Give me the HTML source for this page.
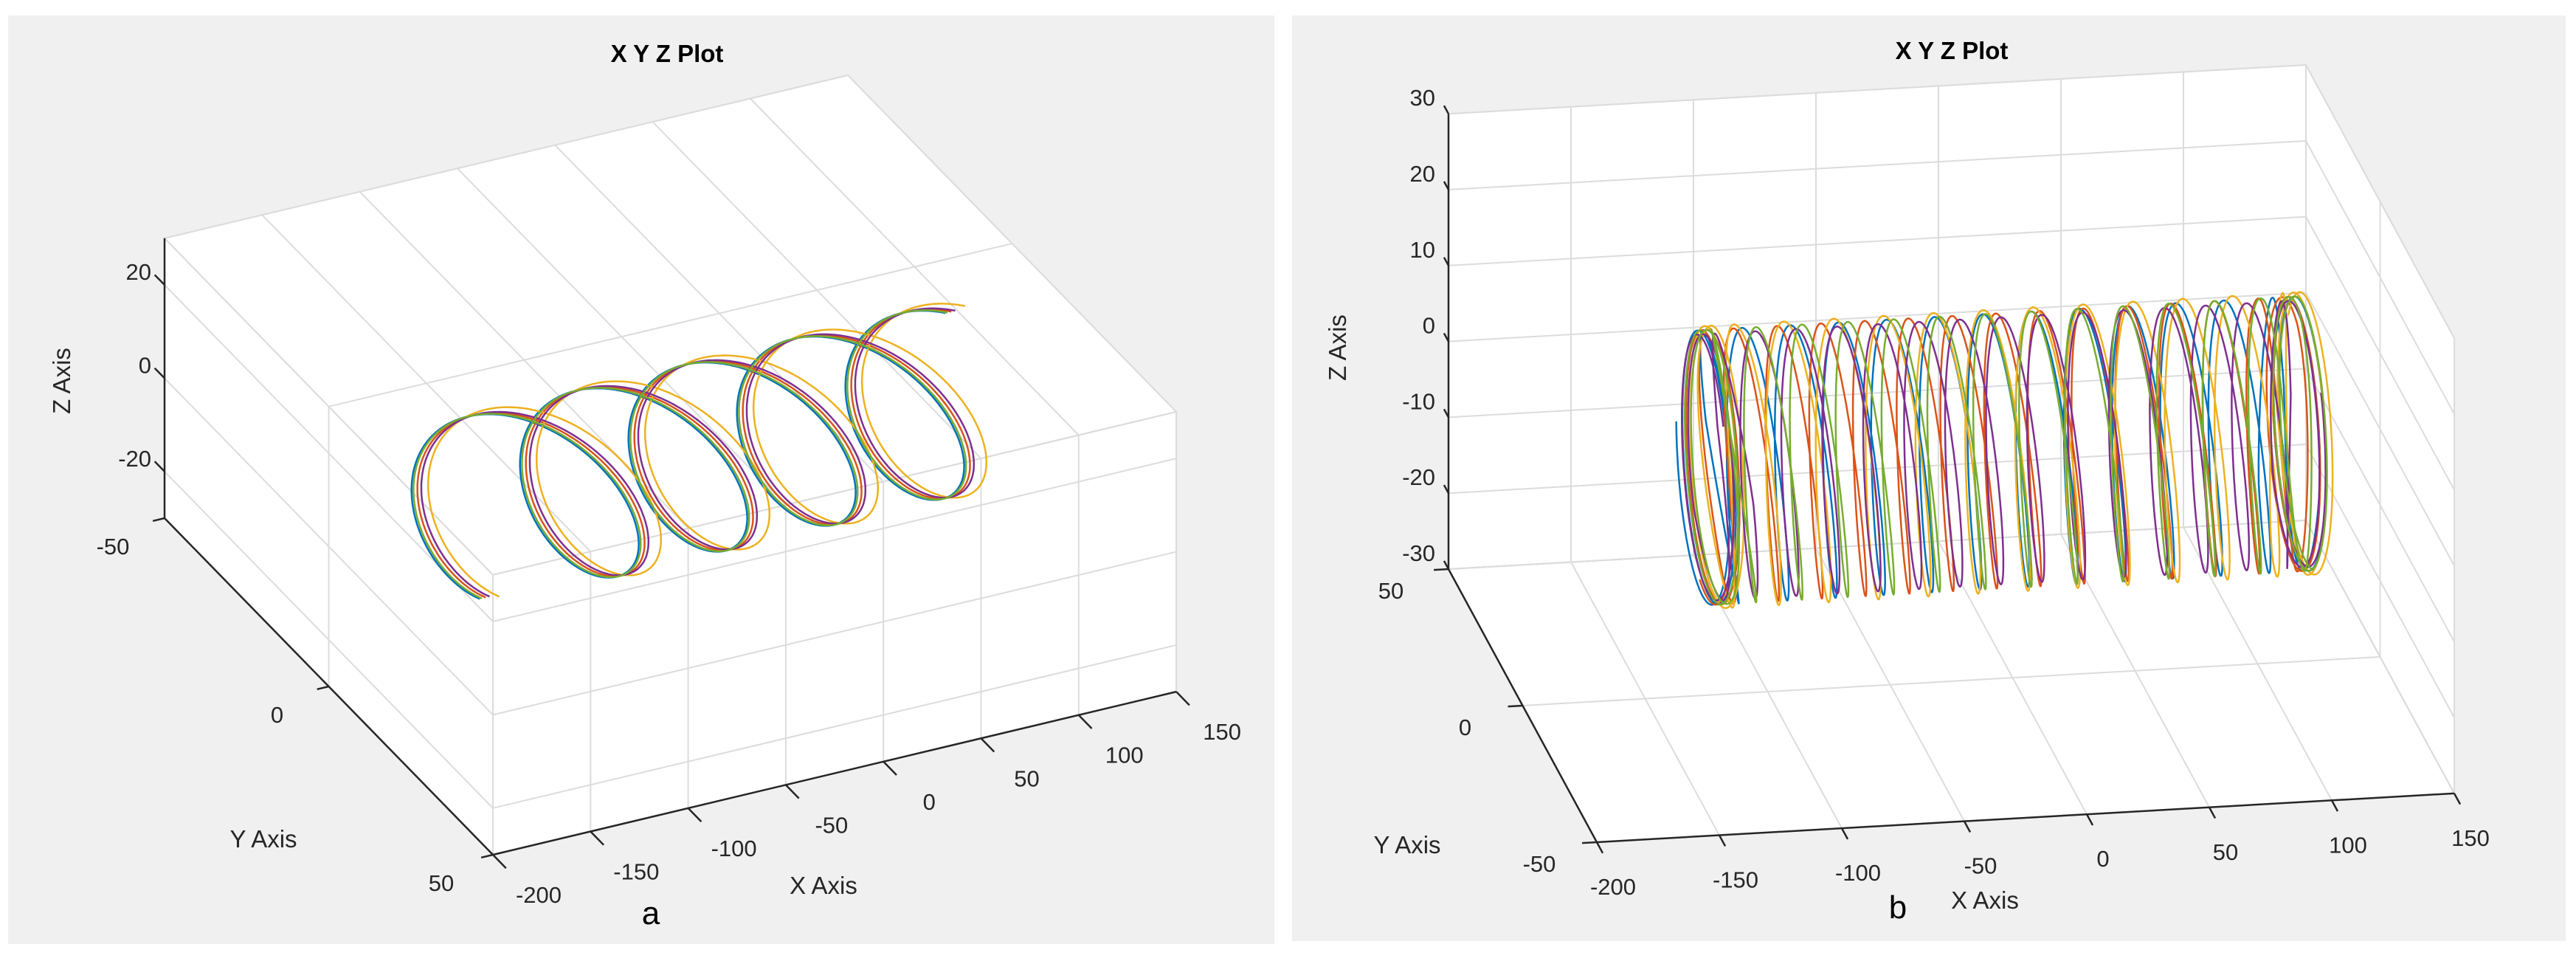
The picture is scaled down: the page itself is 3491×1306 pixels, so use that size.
<!DOCTYPE html>
<html><head><meta charset="utf-8"><style>
html,body{margin:0;padding:0;background:#fff;}
svg{display:block;}
text{font-family:"Liberation Sans",Arial,sans-serif;}
</style></head><body>
<svg id="fig" width="3491" height="1306" viewBox="0 0 3491 1306" xmlns="http://www.w3.org/2000/svg">
<rect x="11" y="21" width="1716" height="1258" fill="#f0f0f0"/>
<rect x="1751" y="21" width="1726" height="1254" fill="#f0f0f0"/>
<g id="pa"></g>
<g id="pb"></g>
<text x="904" y="84" font-size="33" font-weight="bold" text-anchor="middle" fill="#000">X Y Z Plot</text>
<text x="2645" y="80" font-size="33" font-weight="bold" text-anchor="middle" fill="#000">X Y Z Plot</text>
<text transform="translate(95,516) rotate(-90)" font-size="33" text-anchor="middle" fill="#262626">Z Axis</text>
<text x="357" y="1148" font-size="33" text-anchor="middle" fill="#262626">Y Axis</text>
<text x="1116" y="1211" font-size="33" text-anchor="middle" fill="#262626">X Axis</text>
<text x="882" y="1252" font-size="44" text-anchor="middle" fill="#000">a</text>
<text transform="translate(1824,471) rotate(-90)" font-size="33" text-anchor="middle" fill="#262626">Z Axis</text>
<text x="1907" y="1156" font-size="33" text-anchor="middle" fill="#262626">Y Axis</text>
<text x="2690" y="1231" font-size="33" text-anchor="middle" fill="#262626">X Axis</text>
<text x="2572" y="1244" font-size="44" text-anchor="middle" fill="#000">b</text>
</svg>
<script>
// ---- shared data ----
const xTicks = [-200,-150,-100,-50,0,50,100,150];
const yTicks = [-50,0,50];
const zTicksA = [-20,0,20];
const zTicksB = [-30,-20,-10,0,10,20,30];
const seriesColors = ['#0072BD','#D95319','#EDB120','#7E2F8E','#77AC30'];
// chart a helix data
const aXStart = [-125,-122,-115,-120,-124];
const aXEnd = [125,128,135,130,126];
const aYCenter = [-2,-2,-2,-2,-2];
const aZCenter = [-2,-2,-2,-2,-2];
const aRadiusY = [10,10,10.3,10,10];
const aTiltX = [26,26,27,26,26];
const aLean = [7,7,7,7,7];
const aRadiusZ = [19,19,19.5,19,19];
const aTurns = [4.5,4.5,4.5,4.5,4.5];
const aPhase = [1.6,1.6,1.6,1.6,1.6];
// chart b helix data
const bXStart = [-122,-120,-118,-121,-119];
const bXEnd = [114,112,116,113,115];
const bRadius = [17,17,17.5,16.5,17];
const bBulgeX = [14,13,15,14,13];
const bLean = [6,6,6,6,6];
const bTurns = [12,13,11.5,14,12.5];
const bPhase = [0,1.3,2.5,3.8,5.0];
const bEndRings = [2,2,2,2,2];

const NS='http://www.w3.org/2000/svg';
function mk(parent,tag,attrs){const e=document.createElementNS(NS,tag);for(const k in attrs)e.setAttribute(k,attrs[k]);parent.appendChild(e);return e;}

function projA(x,y,z){return [223+2.646*(x+200)+4.45*(y+50), 702-0.631*(x+200)+4.56*(y+50)-6.32*(z+30)];}
function projB(x,y,z){return [1963+3.32*(x+200)-2.01*(y-50), 771-0.189*(x+200)-3.70*(y-50)-10.28*(z+30)];}
function poly(g,P,pts,fill,stroke,name){const s=pts.map(p=>P(...p).join(',')).join(' ');
 const e=mk(g,'polygon',{points:s,fill:fill,stroke:stroke,'stroke-width':2});
 
 }
function line(g,P,a,b,col,w,name){const p=P(...a),q=P(...b);
 const e=mk(g,'line',{x1:p[0],y1:p[1],x2:q[0],y2:q[1],stroke:col,'stroke-width':w});
 
 return e;}
function label(g,x,y,t,anchor,name){const e=mk(g,'text',{x:x,y:y,'font-size':31,fill:'#262626','text-anchor':anchor});e.textContent=t;
 
 }
const GC='#dcdcdc', AC='#262626';

// ---------- chart A ----------
(function(){
 const g=document.getElementById('pa'),P=projA;
 poly(g,P,[[-200,-50,30],[150,-50,30],[150,50,30],[-200,50,30]],'#fff',GC,'ceiling-plane');
 poly(g,P,[[-200,-50,-30],[-200,-50,30],[-200,50,30],[-200,50,-30]],'#fff',GC,'left-wall');
 poly(g,P,[[-200,50,-30],[-200,50,30],[150,50,30],[150,50,-30]],'#fff',GC,'front-wall');
 xTicks.forEach(x=>{line(g,P,[x,-50,30],[x,50,30],GC,2,'x-gridline');line(g,P,[x,50,-30],[x,50,30],GC,2,'x-gridline');});
 yTicks.forEach(y=>{line(g,P,[-200,y,30],[150,y,30],GC,2,'y-gridline');line(g,P,[-200,y,-30],[-200,y,30],GC,2,'y-gridline');});
 zTicksA.forEach(z=>{line(g,P,[-200,-50,z],[-200,50,z],GC,2,'z-gridline');line(g,P,[-200,50,z],[150,50,z],GC,2,'z-gridline');});
 line(g,P,[-200,-50,-30],[-200,-50,30],AC,2.5,'z-axis-line');
 line(g,P,[-200,-50,-30],[-200,50,-30],AC,2.5,'y-axis-line');
 line(g,P,[-200,50,-30],[150,50,-30],AC,2.5,'x-axis-line');
 xTicks.forEach(x=>{line(g,P,[x,50,-30],[x,54,-30],AC,2.5,'x-tick');const p=P(x,50,-30);label(g,p[0]+62,p[1]+65,String(x),'middle','x-tick-label');});
 yTicks.forEach(y=>{line(g,P,[-200,y,-30],[-206,y,-30],AC,2.5,'y-tick');const p=P(-200,y,-30);label(g,p[0]-70,p[1]+49,String(y),'middle','y-tick-label');});
 zTicksA.forEach(z=>{line(g,P,[-200,-50,z],[-200,-53,z],AC,2.5,'z-tick');const p=P(-200,-50,z);label(g,205,p[1]-7,String(z),'end','z-tick-label');});
 for(let i=0;i<seriesColors.length;i++){
  const N=900,T=aTurns[i]*2*Math.PI;let d='';
  for(let k=0;k<=N;k++){const f=k/N,t=f*T+aPhase[i];
   const c=Math.cos(t),s=Math.sin(t);
   const x=aXStart[i]+(aXEnd[i]-aXStart[i])*f+aTiltX[i]*c+aLean[i]*s,y=aYCenter[i]+aRadiusY[i]*c,z=aZCenter[i]-aRadiusZ[i]*s;
   const p=P(x,y,z);d+=(k?'L':'M')+p[0].toFixed(1)+' '+p[1].toFixed(1);}
  const e=mk(g,'path',{d:d,fill:'none',stroke:seriesColors[i],'stroke-width':2.5});
  
  
 }
})();

// ---------- chart B ----------
(function(){
 const g=document.getElementById('pb'),P=projB;
 poly(g,P,[[-200,50,-30],[150,50,-30],[150,-50,-30],[-200,-50,-30]],'#fff',GC,'floor-plane');
 poly(g,P,[[-200,50,-30],[150,50,-30],[150,50,30],[-200,50,30]],'#fff',GC,'back-wall');
 poly(g,P,[[150,50,-30],[150,-50,-30],[150,-50,30],[150,50,30]],'#fff',GC,'right-wall');
 xTicks.forEach(x=>{line(g,P,[x,-50,-30],[x,50,-30],GC,2,'x-gridline');line(g,P,[x,50,-30],[x,50,30],GC,2,'x-gridline');});
 yTicks.forEach(y=>{line(g,P,[-200,y,-30],[150,y,-30],GC,2,'y-gridline');line(g,P,[150,y,-30],[150,y,30],GC,2,'y-gridline');});
 zTicksB.forEach(z=>{line(g,P,[-200,50,z],[150,50,z],GC,2,'z-gridline');line(g,P,[150,50,z],[150,-50,z],GC,2,'z-gridline');});
 line(g,P,[-200,50,-30],[-200,50,30],AC,2.5,'z-axis-line');
 line(g,P,[-200,50,-30],[-200,-50,-30],AC,2.5,'y-axis-line');
 line(g,P,[-200,-50,-30],[150,-50,-30],AC,2.5,'x-axis-line');
 xTicks.forEach(x=>{line(g,P,[x,-50,-30],[x,-54,-30],AC,2.5,'x-tick');const p=P(x,-50,-30);label(g,p[0]+22,p[1]+71,String(x),'middle','x-tick-label');});
 yTicks.forEach(y=>{line(g,P,[-200,y,-30],[-206,y,-30],AC,2.5,'y-tick');const p=P(-200,y,-30);label(g,p[0]-78,p[1]+40,String(y),'middle','y-tick-label');});
 zTicksB.forEach(z=>{line(g,P,[-200,50,z],[-200,53,z],AC,2.5,'z-tick');const p=P(-200,50,z);label(g,1945,p[1]-11,String(z),'end','z-tick-label');});
 for(let i=0;i<seriesColors.length;i++){
  const N=4000,R=bEndRings[i],T=bTurns[i]+2*R;let d='';
  for(let k=0;k<=N;k++){const s=k/N*T,t=s*2*Math.PI+bPhase[i];
   let f=(s-R)/bTurns[i];f=Math.max(0,Math.min(1,f));
   const w=Math.min(1,Math.max(0,Math.min(s-R+0.5,R+bTurns[i]+0.5-s)));
   const x=bXStart[i]+(bXEnd[i]-bXStart[i])*f+(s<R?(s-R)*2.5:0)+(s>R+bTurns[i]?(s-R-bTurns[i])*2.5:0)+w*(bBulgeX[i]*Math.cos(t)+bLean[i]*Math.sin(t));
   const y=bRadius[i]*Math.cos(t),z=-bRadius[i]*Math.sin(t);
   const p=P(x,y,z);d+=(k?'L':'M')+p[0].toFixed(1)+' '+p[1].toFixed(1);}
  const e=mk(g,'path',{d:d,fill:'none',stroke:seriesColors[i],'stroke-width':2.5});
  
  
 }
})();
</script>
</body></html>
